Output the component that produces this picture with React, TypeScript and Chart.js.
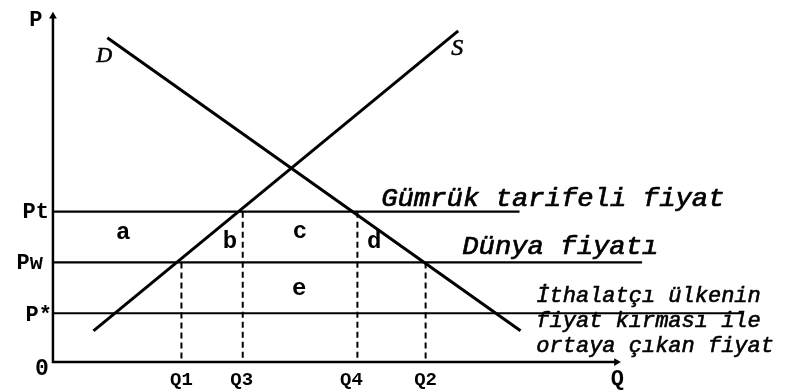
import React, { useEffect, useRef } from "react";
import { Chart, registerables } from "chart.js";

Chart.register(...registerables);

// Units: arbitrary quantity (Q) and price (P) units.
const priceLabels = ["Pt", "Pw", "P*"];
const priceValues = [154, 102, 50];
const priceLineEnds = [472, 596, 699];

const quantityLabels = ["Q1", "Q3", "Q4", "Q2"];
const quantityValues = [130, 192, 308, 377];
const quantityTopPrices = [102, 154, 154, 102];

const supplyQ = [41, 410];
const supplyP = [32, 339];
const demandQ = [55, 473];
const demandP = [332, 32];

const areaLabels = ["a", "b", "c", "d", "e"];
const areaQ = [71, 179, 250, 325, 249];
const areaP = [132, 123, 133, 123, 75];

const axisQMax = 574;
const axisPMax = 358;

const noteTexts = ["Gümrük tarifeli fiyat", "Dünya fiyatı"];
const noteQ = [332, 414];
const noteP = [160, 111];

const importerLines = ["İthalatçı ülkenin", "fiyat kırması ile", "ortaya çıkan fiyat"];
const importerQ = 489;
const importerP = [61, 36, 10];

const W = 785;
const H = 392;

export default function App() {
  const ref = useRef<HTMLCanvasElement | null>(null);

  useEffect(() => {
    document.body.style.margin = "0";
    const canvas = ref.current;
    if (!canvas) return;

    const line = (pts: { x: number; y: number }[], extra: any = {}) => ({
      type: "line" as const,
      data: pts,
      showLine: true,
      borderColor: "#000",
      backgroundColor: "#000",
      borderWidth: 2.5,
      pointRadius: 0,
      fill: false,
      tension: 0,
      ...extra,
    });

    const datasets: any[] = [];
    // axes
    datasets.push(line([{ x: 0, y: axisPMax - 3 }, { x: 0, y: 0 }, { x: axisQMax - 3, y: 0 }], { borderWidth: 2.5 }));
    // arrowheads
    datasets.push({
      type: "scatter",
      data: [{ x: 0, y: axisPMax - 4 }, { x: axisQMax - 4, y: 0 }],
      pointStyle: "triangle",
      pointRotation: [0, 90],
      pointRadius: 4.5,
      pointBorderWidth: 0,
      backgroundColor: "#000",
      borderColor: "#000",
      showLine: false,
    });
    // price lines
    priceValues.forEach((p, i) => {
      datasets.push(line([{ x: 0, y: p }, { x: priceLineEnds[i], y: p }], { borderWidth: 2.2 }));
    });
    // dashed quantity lines
    quantityValues.forEach((q, i) => {
      datasets.push(line([{ x: q, y: quantityTopPrices[i] }, { x: q, y: 0 }], { borderWidth: 2, borderDash: [6, 4] }));
    });
    // supply & demand
    datasets.push(line(supplyQ.map((q, i) => ({ x: q, y: supplyP[i] })), { borderWidth: 3 }));
    datasets.push(line(demandQ.map((q, i) => ({ x: q, y: demandP[i] })), { borderWidth: 3 }));

    const textPlugin = {
      id: "labels",
      afterDatasetsDraw(chart: any) {
        const ctx = chart.ctx as CanvasRenderingContext2D;
        const xs = chart.scales.x;
        const ys = chart.scales.y;
        const px = (v: number) => xs.getPixelForValue(v);
        const py = (v: number) => ys.getPixelForValue(v);
        const draw = (
          t: string,
          x: number,
          y: number,
          font: string,
          align: CanvasTextAlign = "center",
          base: CanvasTextBaseline = "middle",
          sx = 1,
          thicken = 0
        ) => {
          ctx.save();
          ctx.font = font;
          ctx.fillStyle = "#000";
          ctx.strokeStyle = "#000";
          ctx.textAlign = align;
          ctx.textBaseline = base;
          ctx.translate(x, y);
          ctx.scale(sx, 1);
          ctx.fillText(t, 0, 0);
          if (thicken > 0) {
            ctx.lineWidth = thicken;
            ctx.lineJoin = "round";
            ctx.strokeText(t, 0, 0);
          }
          ctx.restore();
        };
        const mono = "'Liberation Mono', 'Courier New', monospace";
        // axis names
        draw("P", px(0) - 17, py(axisPMax) + 8, `bold 22px ${mono}`);
        draw("0", px(0) - 11, py(0) + 7, `bold 23px ${mono}`);
        draw("Q", px(axisQMax) - 3, py(0) + 17, `bold 22px ${mono}`);
        // price labels
        const priceRight = [-4, -10, -1];
        const priceDy = [1, 1, 2];
        priceLabels.forEach((l, i) => {
          draw(l, px(0) + priceRight[i], py(priceValues[i]) + priceDy[i], `bold 22px ${mono}`, "right");
        });
        // quantity labels
        const qDx = [0, -1, -6, 0];
        quantityLabels.forEach((l, i) => {
          draw(l, px(quantityValues[i]) + qDx[i], py(0) + 18, `bold 19px ${mono}`);
        });
        // areas
        areaLabels.forEach((l, i) => {
          draw(l, px(areaQ[i]), py(areaP[i]), `bold 24px ${mono}`);
        });
        // curve names
        const serif = "'Liberation Serif', 'Times New Roman', serif";
        draw("D", px(demandQ[0]) - 3, py(demandP[0]) + 18, `italic 22px ${serif}`, "center", "middle", 1, 0.6);
        draw("S", px(supplyQ[1]) - 1, py(supplyP[1]) + 18, `italic 24px ${serif}`, "center", "middle", 1, 0.6);
        // notes
        noteTexts.forEach((t, i) => {
          draw(t, px(noteQ[i]), py(noteP[i]), `italic 25px ${mono}`, "left", "alphabetic", 1.09, 0.7);
        });
        importerLines.forEach((t, i) => {
          draw(t, px(importerQ), py(importerP[i]), `italic 22px ${mono}`, "left", "alphabetic", 1.0, 0.6);
        });
      },
    };

    const chart = new Chart(canvas, {
      type: "scatter",
      data: { datasets },
      options: {
        animation: false,
        responsive: false,
        maintainAspectRatio: false,
        devicePixelRatio: 1,
        layout: { padding: 0 },
        plugins: { legend: { display: false }, tooltip: { enabled: false } },
        events: [],
        scales: {
          x: { type: "linear", min: -49, max: W - 49, display: false },
          y: { type: "linear", min: -(H - 366), max: 366, display: false },
        },
      },
      plugins: [textPlugin],
    });
    return () => chart.destroy();
  }, []);

  return (
    <div style={{ width: W, height: H, background: "#fff" }}>
      <canvas ref={ref} width={W} height={H} style={{ display: "block", width: W, height: H }} />
    </div>
  );
}
